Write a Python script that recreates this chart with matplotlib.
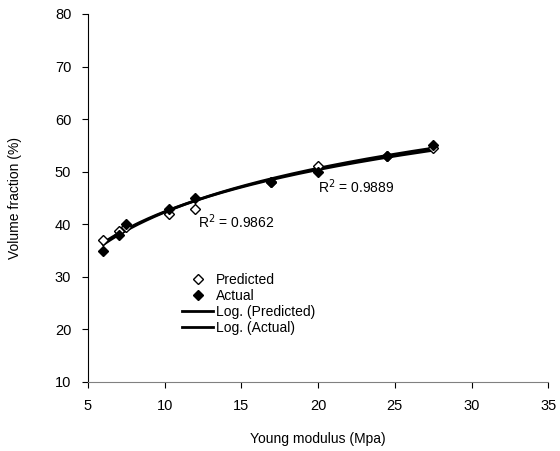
import numpy as np
import matplotlib.pyplot as plt

plt.rcParams['font.family'] = ['Liberation Sans', 'DejaVu Sans']

# data
pred_x = [6.0, 7.0, 7.5, 10.3, 12.0, 16.9, 20.0, 24.5, 27.5]
pred_y = [37.0, 38.7, 39.5, 42.0, 43.0, 48.0, 51.0, 53.0, 54.5]
act_x = [6.0, 7.0, 7.5, 10.3, 12.0, 16.9, 20.0, 24.5, 27.5]
act_y = [35.0, 38.0, 40.0, 43.0, 45.0, 48.0, 50.0, 53.0, 55.0]

fig = plt.figure(figsize=(5.6, 4.51), dpi=100)
ax = fig.add_axes([0.157, 0.153, 0.822, 0.816])

ax.plot(pred_x, pred_y, 'D', mfc='white', mec='black', ms=5.5, mew=1, label='Predicted', zorder=3)
ax.plot(act_x, act_y, 'D', color='black', ms=5.5, label='Actual', zorder=3)

# logarithmic trend lines
for xs, ys, lab in [(pred_x, pred_y, 'Log. (Predicted)'), (act_x, act_y, 'Log. (Actual)')]:
    b, a = np.polyfit(np.log(xs), ys, 1)
    xx = np.linspace(min(xs), max(xs), 200)
    ax.plot(xx, a + b * np.log(xx), color='black', lw=2, label=lab, zorder=2)

ax.text(12.2, 39.2, 'R$^2$ = 0.9862', fontsize=10)
ax.text(20.0, 45.9, 'R$^2$ = 0.9889', fontsize=10)

ax.set_xlim(5, 35)
ax.set_ylim(10, 80)
ax.set_xticks(range(5, 36, 5))
ax.set_yticks(range(10, 81, 10))
ax.set_xlabel('Young modulus (Mpa)', fontsize=10, labelpad=14)
ax.set_ylabel('Volume fraction (%)', fontsize=10, labelpad=24)
ax.tick_params(labelsize=10.5, length=4, width=0.8, pad=8)
ax.spines['top'].set_visible(False)
ax.spines['right'].set_visible(False)
ax.spines['bottom'].set_color('#808080')

ax.legend(loc='upper left', bbox_to_anchor=(0.19, 0.315), frameon=False, fontsize=10,
          handlelength=2.2, handletextpad=0.2, labelspacing=0.15, borderpad=0)

fig.savefig('out.png', dpi=100)
